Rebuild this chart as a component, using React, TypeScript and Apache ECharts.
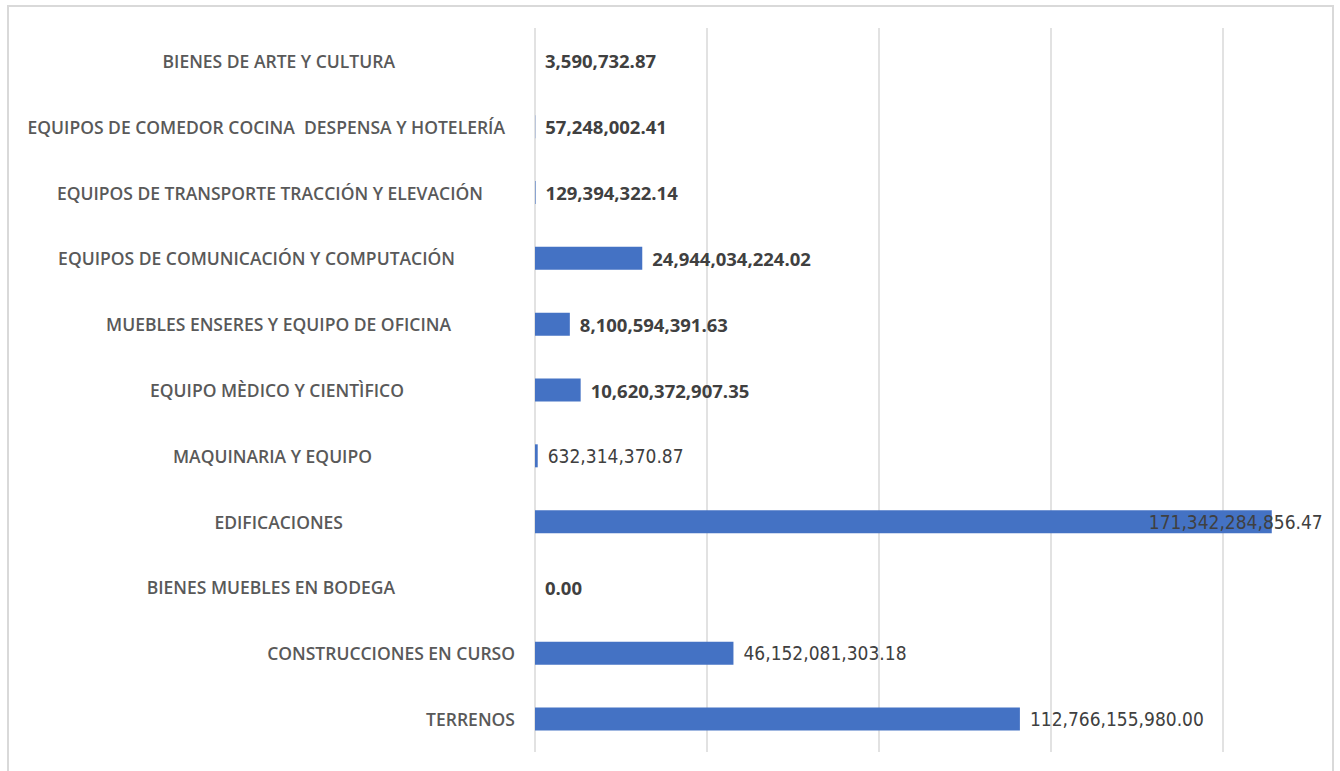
import React, { useEffect, useRef } from "react";
import * as echarts from "echarts";

// ---- data ----
const categories = [
  "BIENES DE ARTE Y CULTURA",
  "EQUIPOS DE COMEDOR COCINA  DESPENSA Y HOTELERÍA",
  "EQUIPOS DE TRANSPORTE TRACCIÓN Y ELEVACIÓN",
  "EQUIPOS DE COMUNICACIÓN Y COMPUTACIÓN",
  "MUEBLES ENSERES Y EQUIPO DE OFICINA",
  "EQUIPO MÈDICO Y CIENTÌFICO",
  "MAQUINARIA Y EQUIPO",
  "EDIFICACIONES",
  "BIENES MUEBLES EN BODEGA",
  "CONSTRUCCIONES EN CURSO",
  "TERRENOS",
];
const values = [
  3590732.87,
  57248002.41,
  129394322.14,
  24944034224.02,
  8100594391.63,
  10620372907.35,
  632314370.87,
  171342284856.47,
  0.0,
  46152081303.18,
  112766155980.0,
];
const axisMin = 0;
const axisMax = 180e9;
const axisInterval = 40e9;

// ---- styling (not data) ----
const labelPadRight = [120, 10, 32, 60, 64, 111, 143, 172, 120, 0, 0];
const narrowLabel = [false, false, false, false, false, false, true, true, false, true, true];

const fmt = (v: number) =>
  v.toLocaleString("en-US", { minimumFractionDigits: 2, maximumFractionDigits: 2 });

export default function App() {
  const ref = useRef<HTMLDivElement>(null);
  useEffect(() => {
    if (!ref.current) return;
    const chart = echarts.init(ref.current, null, { renderer: "svg" });
    const maxVal = Math.max(...values);
    chart.setOption({
      animation: false,
      backgroundColor: "#ffffff",
      graphic: [
        {
          type: "rect",
          shape: { x: 8, y: 6, width: 1325, height: 820 },
          style: { fill: "none", stroke: "#d9d9d9", lineWidth: 2 },
          silent: true,
        },
      ],
      grid: { left: 535, right: 31, top: 28, bottom: 19, containLabel: false },
      xAxis: {
        type: "value",
        min: axisMin,
        max: axisMax,
        interval: axisInterval,
        axisLabel: { show: false },
        axisLine: { show: false },
        axisTick: { show: false },
        splitLine: {
          show: true,
          showMaxLine: false,
          lineStyle: { color: "#d9d9d9", width: 1.5 },
        },
      },
      yAxis: {
        type: "category",
        inverse: true,
        data: categories.map((c, i) => ({
          value: c,
          textStyle: { padding: [0, labelPadRight[i], 0, 0] },
        })),
        axisLine: { show: false },
        axisTick: { show: false },
        axisLabel: {
          margin: 20,
          align: "right",
          color: "#595959",
          fontFamily: "'Open Sans', sans-serif",
          fontWeight: 600,
          fontSize: 17.5,
        },
      },
      series: [
        {
          type: "bar",
          barWidth: 23,
          itemStyle: { color: "#4472c4" },
          data: values.map((v, i) => {
            const isMax = v === maxVal;
            return {
              value: v,
              label: {
                show: true,
                position: "right",
                distance: isMax ? -123 : 10,
                formatter: () => fmt(v),
                color: "#404040",
                fontFamily: narrowLabel[i]
                  ? "'DejaVu Sans Condensed', 'Roboto', sans-serif"
                  : "'Open Sans', sans-serif",
                fontWeight: narrowLabel[i] ? 400 : 700,
                fontSize: narrowLabel[i] ? 19 : 18.5,
              },
            };
          }),
        },
      ],
    });
    return () => chart.dispose();
  }, []);
  return (
    <div
      ref={ref}
      style={{ position: "absolute", left: 0, top: 0, width: 1340, height: 771 }}
    />
  );
}
